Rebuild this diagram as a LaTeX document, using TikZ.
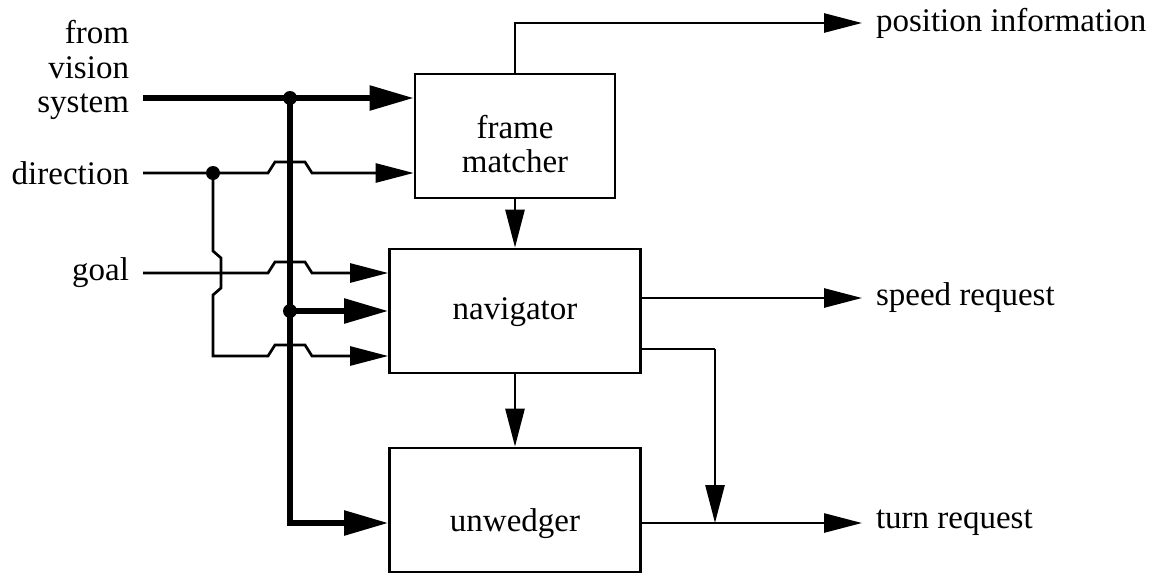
\documentclass[tikz,border=0pt]{standalone}
\usepackage{fontspec}
\setmainfont{Liberation Serif}
\usetikzlibrary{arrows.meta,calc}

\newcommand{\diagfont}{\fontsize{33}{34.5}\selectfont}

\begin{document}
\begin{tikzpicture}[x=1pt, y=-1pt,
    block/.style={rectangle, draw, line width=2.7pt, minimum height=124pt, align=center, inner sep=0pt, font=\diagfont},
    lbl/.style={inner sep=0pt, outer xsep=14pt, font=\diagfont},
    sig/.style={line width=2.7pt, -{Triangle[length=38pt,width=19pt]}},
    bus/.style={line width=5.5pt, -{Triangle[length=44pt,width=24pt]}},
    dot/.style={circle, fill, inner sep=0pt, minimum size=14pt}
]
\useasboundingbox (0,0) rectangle (1153,573);

% Blocks
\node[block, minimum width=200pt, text height=73pt, text depth=0pt] (fm) at (515,136) {frame\\matcher};
\node[block, minimum width=251pt, text height=24pt, text depth=7pt] (nav) at (515,311) {navigator};
\node[block, minimum width=251pt, text height=50pt, text depth=7pt] (unw) at (515,510) {unwedger};

% Inputs
\node[lbl, anchor=east, align=right] (vis) at (143,70) {from\\vision\\system};
\node[lbl, anchor=east] (dir) at (143,173) {direction};
\node[lbl, anchor=east] (goal) at (143,273) {goal};

% Outputs
\node[lbl, anchor=west] (pos) at (862,23) {position information};
\node[lbl, anchor=west] (spd) at (862,298) {speed request};
\node[lbl, anchor=west] (turn) at (862,523) {turn request};

% Junctions
\coordinate (jv) at (290,98);
\coordinate (jn) at (290,311);
\coordinate (ju) at (290,523);
\coordinate (jd) at (213,173);
\coordinate (low) at (213,356);
\coordinate (jt) at (715,349);

% Vision bus
\draw[bus] (vis.east |- jv) -- (fm.west |- jv);
\draw[bus] (jv) |- (unw.west |- ju);
\draw[bus] (jn) -- (nav.west);
\node[dot] (dv) at (jv) {};
\node[dot] (dn) at (jn) {};

% Direction and goal
\draw[sig] (dir.east) -- ($(jv |- dir.east)+(-22,0)$) -- ++(7,-11) -- ++(30,0) -- ++(7,11) -- (fm.west |- dir.east);
\draw[sig] (goal.east) -- ($(jv |- goal.east)+(-22,0)$) -- ++(7,-11) -- ++(30,0) -- ++(7,11) -- (nav.west |- goal.east);
\draw[sig] (jd) -- ($(jd |- goal.east)+(0,-22)$) -- ++(8,7) -- ++(0,30) -- ++(-8,7) -- (low)
    -- ($(jv |- low)+(-22,0)$) -- ++(7,-11) -- ++(30,0) -- ++(7,11) -- (nav.west |- low);
\node[dot] (dd) at (jd) {};

% Between blocks
\draw[sig] (fm.south) -- (nav.north);
\draw[sig] (nav.south) -- (unw.north);

% Outputs
\draw[sig] (fm.north) |- (pos.west);
\draw[sig] (nav.east |- spd.west) -- (spd.west);
\draw[line width=2.7pt] (nav.east |- jt) -- (jt);
\draw[sig] (jt) -- (jt |- turn.west);
\draw[sig] (unw.east |- turn.west) -- (turn.west);

\end{tikzpicture}
\end{document}
